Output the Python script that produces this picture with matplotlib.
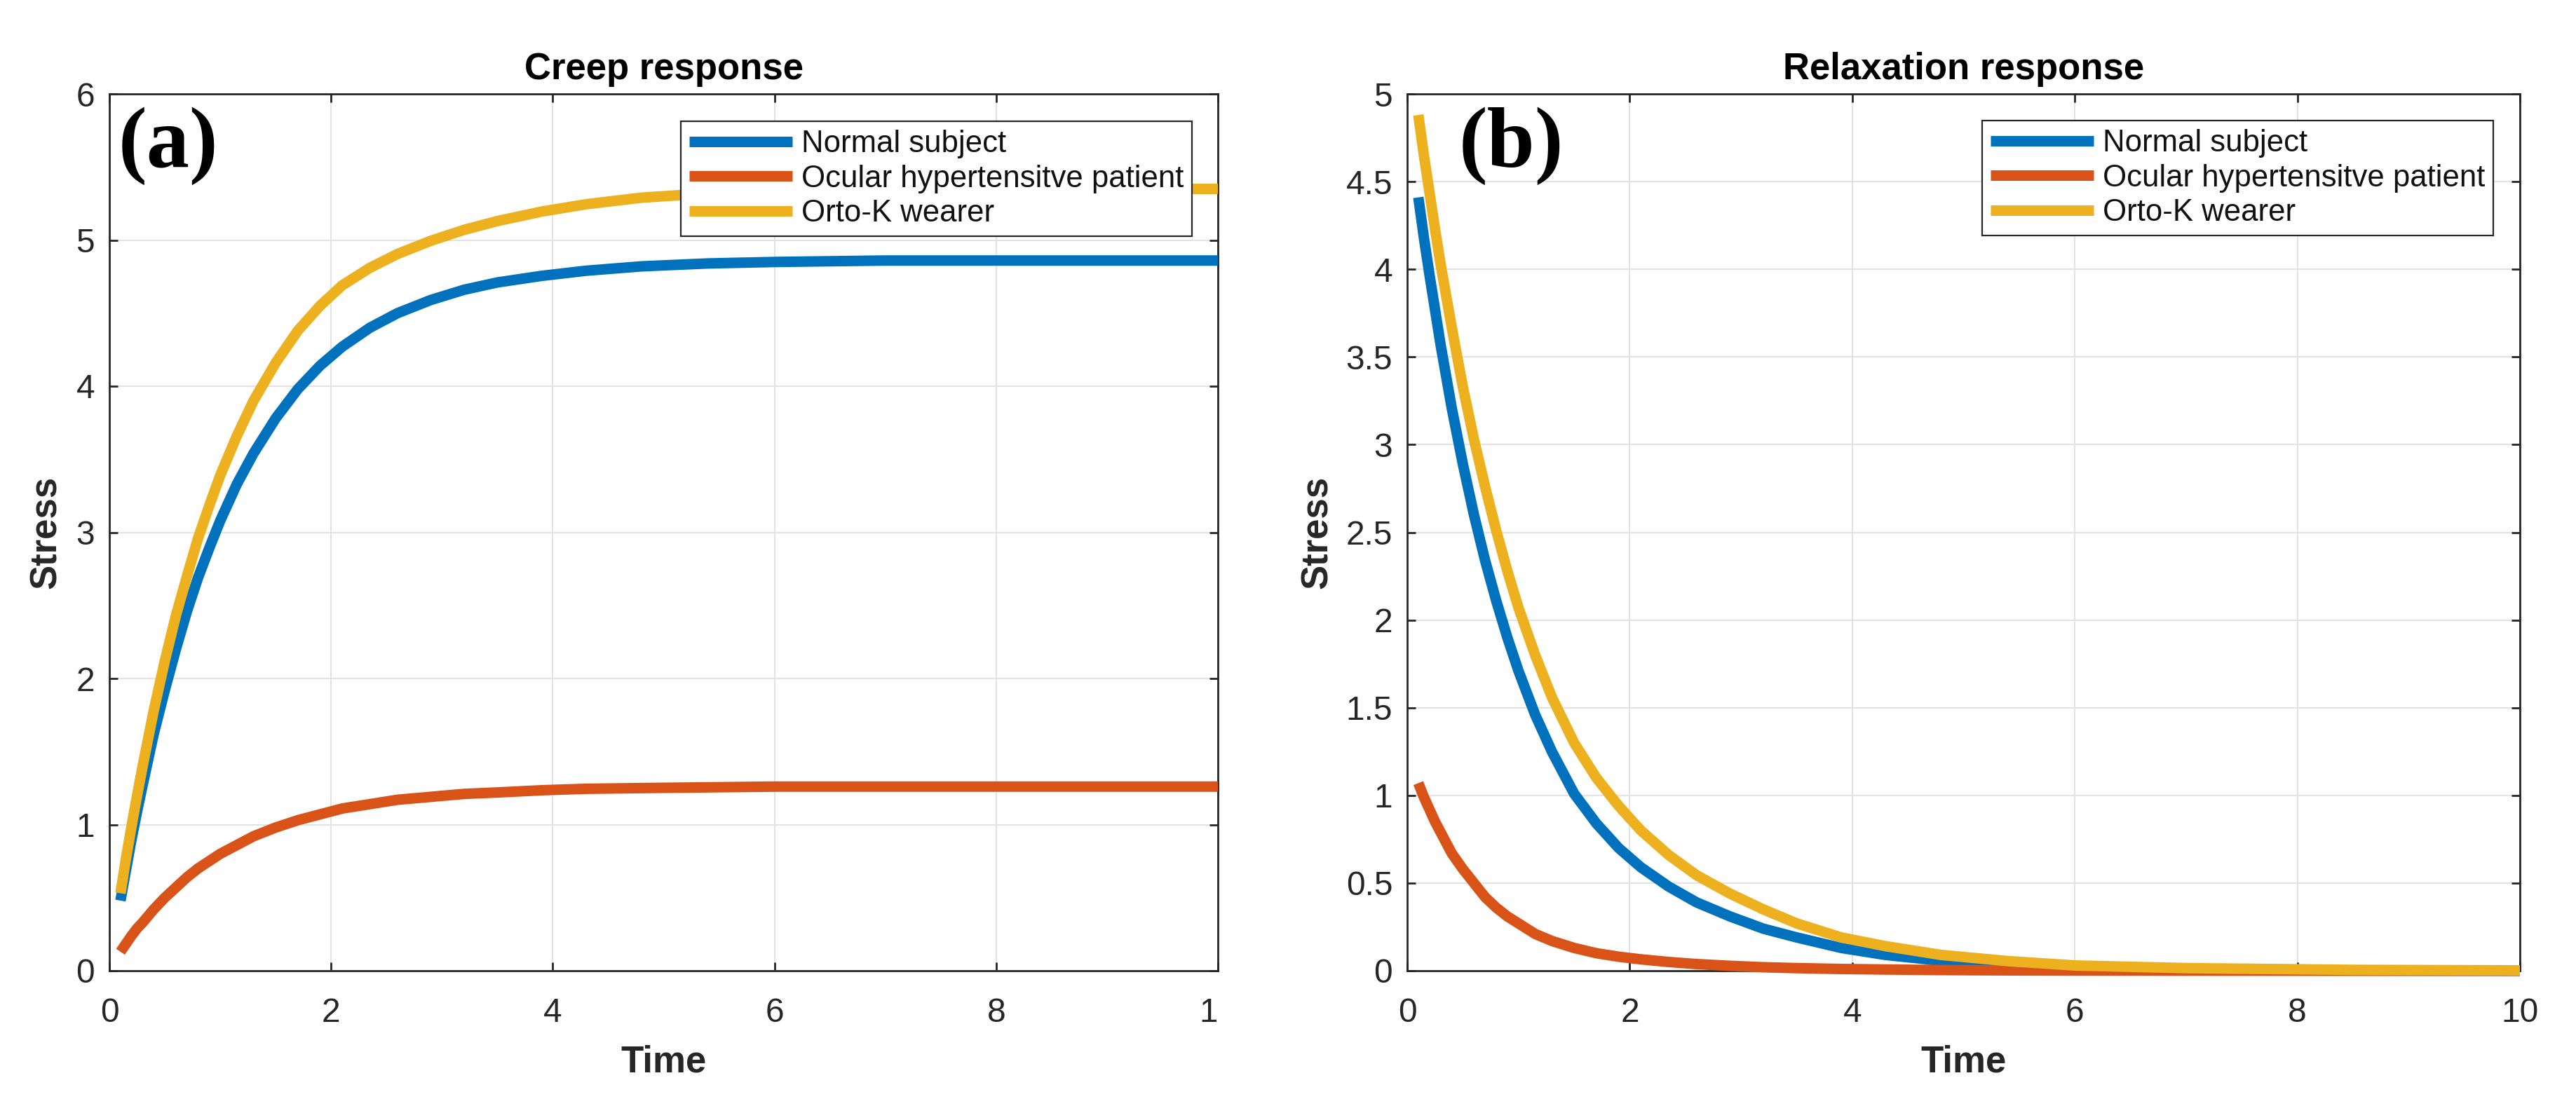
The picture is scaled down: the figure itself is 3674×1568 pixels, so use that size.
import matplotlib
matplotlib.use('Agg')
import matplotlib.pyplot as plt
from matplotlib.patches import Rectangle

plt.rcParams['font.family'] = ['Liberation Sans', 'DejaVu Sans']

# ---------------- data ----------------
time = [0.1, 0.15, 0.2, 0.25, 0.3, 0.4, 0.5, 0.6, 0.7, 0.8, 0.9, 1.0, 1.15, 1.3,
        1.5, 1.7, 1.9, 2.1, 2.35, 2.6, 2.9, 3.2, 3.5, 3.9, 4.3, 4.8, 5.4, 6.0,
        7.0, 8.5, 10.0]

series_names = ['Normal subject', 'Ocular hypertensitve patient', 'Orto-K wearer']

creep_normal = [0.48, 0.69, 0.90, 1.09, 1.27, 1.62, 1.92, 2.20, 2.46, 2.69, 2.89, 3.08,
                3.33, 3.54, 3.78, 3.98, 4.14, 4.27, 4.40, 4.50, 4.59, 4.66, 4.71, 4.755,
                4.79, 4.82, 4.84, 4.85, 4.86, 4.86, 4.86]
creep_ocular = [0.13, 0.185, 0.24, 0.29, 0.33, 0.42, 0.50, 0.57, 0.64, 0.70, 0.75, 0.80,
                0.86, 0.92, 0.98, 1.03, 1.07, 1.11, 1.14, 1.17, 1.19, 1.21, 1.22, 1.235,
                1.245, 1.25, 1.255, 1.26, 1.26, 1.26, 1.26]
creep_ortok = [0.53, 0.77, 0.99, 1.20, 1.40, 1.78, 2.12, 2.43, 2.70, 2.96, 3.18, 3.39,
               3.66, 3.90, 4.16, 4.38, 4.55, 4.69, 4.81, 4.905, 4.995, 5.07, 5.13, 5.195,
               5.245, 5.29, 5.32, 5.335, 5.345, 5.35, 5.35]

relax_normal = [4.41, 4.18, 3.97, 3.77, 3.57, 3.21, 2.89, 2.60, 2.34, 2.11, 1.90, 1.71,
                1.46, 1.25, 1.01, 0.84, 0.70, 0.59, 0.48, 0.39, 0.31, 0.24, 0.19, 0.13,
                0.09, 0.057, 0.032, 0.018, 0.007, 0.002, 0.0]
relax_ocular = [1.07, 0.99, 0.92, 0.85, 0.79, 0.67, 0.58, 0.50, 0.42, 0.36, 0.31, 0.27,
                0.21, 0.17, 0.13, 0.10, 0.08, 0.065, 0.05, 0.038, 0.028, 0.02, 0.015, 0.01,
                0.007, 0.004, 0.002, 0.001, 0.0005, 0.0, 0.0]
relax_ortok = [4.88, 4.65, 4.44, 4.23, 4.03, 3.67, 3.33, 3.03, 2.76, 2.51, 2.28, 2.07,
               1.80, 1.56, 1.30, 1.10, 0.94, 0.80, 0.66, 0.545, 0.44, 0.35, 0.27, 0.19,
               0.14, 0.09, 0.055, 0.03, 0.015, 0.005, 0.002]

x_ticks = [0, 2, 4, 6, 8, 10]
creep_yticks = [0, 1, 2, 3, 4, 5, 6]
relax_yticks = [0, 0.5, 1, 1.5, 2, 2.5, 3, 3.5, 4, 4.5, 5]
relax_yticklabels = ['0', '0.5', '1', '1.5', '2', '2.5', '3', '3.5', '4', '4.5', '5']

colors = ['#0072BD', '#D95319', '#EDB120']

# ---------------- figure ----------------
W, H = 3674, 1568
fig = plt.figure(figsize=(W / 100, H / 100), dpi=100)
fig.patch.set_facecolor('white')

ax1 = fig.add_axes([156 / W, 1 - 1385 / H, 1581 / W, 1251 / H])
ax2 = fig.add_axes([2007 / W, 1 - 1385 / H, 1587 / W, 1251 / H])

AXC = '#262626'


def style(ax, ylim, yticks, yticklabels, title, ylabel_x, letter, letter_x, legend_anchor):
    ax.set_xlim(0, 10)
    ax.set_ylim(*ylim)
    ax.set_xticks(x_ticks)
    ax.set_xticklabels([str(v) for v in x_ticks])
    ax.set_yticks(yticks)
    ax.set_yticklabels(yticklabels)
    ax.set_axisbelow(True)
    ax.grid(True, color='#e3e3e3', linewidth=1.5)
    for s in ax.spines.values():
        s.set_color(AXC)
        s.set_linewidth(2.0)
    ax.tick_params(direction='in', length=8.6, width=2.0, color=AXC,
                   top=True, right=True, labelsize=34.5, labelcolor=AXC)
    ax.tick_params(axis='x', pad=27)
    ax.tick_params(axis='y', pad=15)

    ax.set_title(title, fontsize=38, fontweight='bold', color='black',
                 y=1.0168, pad=0, va='baseline')
    ax.set_xlabel('Time', fontsize=38, fontweight='bold', color=AXC, va='baseline')
    ax.xaxis.set_label_coords(0.5, (38 - 183) / 1251)
    ax.set_ylabel('Stress', fontsize=38, fontweight='bold', color=AXC, va='baseline')
    ax.yaxis.set_label_coords(ylabel_x, 0.5)

    ax.text(letter_x, 0.9169, letter, transform=ax.transAxes, fontsize=88,
            fontweight='bold', family='Liberation Serif', ha='left', va='baseline',
            color='black', zorder=6)

    leg = ax.legend(loc='upper right', bbox_to_anchor=legend_anchor,
                    bbox_transform=fig.transFigure, borderaxespad=0,
                    fontsize=31.5, handlelength=3.35, handletextpad=0.3,
                    borderpad=0.27, labelspacing=0.2, frameon=True, fancybox=False,
                    edgecolor=AXC, framealpha=1)
    leg.get_frame().set_linewidth(1.6)
    for t in leg.get_texts():
        t.set_color('#111111')


for vals, c, name in zip([creep_normal, creep_ocular, creep_ortok], colors, series_names):
    ax1.plot(time, vals, color=c, linewidth=10.8, label=name, clip_on=False,
             zorder=3, solid_capstyle='butt', solid_joinstyle='round')

for vals, c, name in zip([relax_normal, relax_ocular, relax_ortok], colors, series_names):
    ax2.plot(time, vals, color=c, linewidth=10.8, label=name, clip_on=False,
             zorder=3, solid_capstyle='butt', solid_joinstyle='round')

style(ax1, (0, 6), creep_yticks, [str(v) for v in creep_yticks], 'Creep response',
      (80 - 156) / 1581, '(a)', 0.0082, (1700 / W, 1 - 173 / H))
style(ax2, (0, 5), relax_yticks, relax_yticklabels, 'Relaxation response',
      (1893 - 2007) / 1587, '(b)', 0.0466, (3556 / W, 1 - 172 / H))

# the left panel was cropped just right of its last tick label in the source
fig.add_artist(Rectangle((1735 / W, 95 / H), 70 / W, 70 / H, transform=fig.transFigure,
                         facecolor='white', edgecolor='none', zorder=10))

fig.savefig('out.png', dpi=100, facecolor='white')
